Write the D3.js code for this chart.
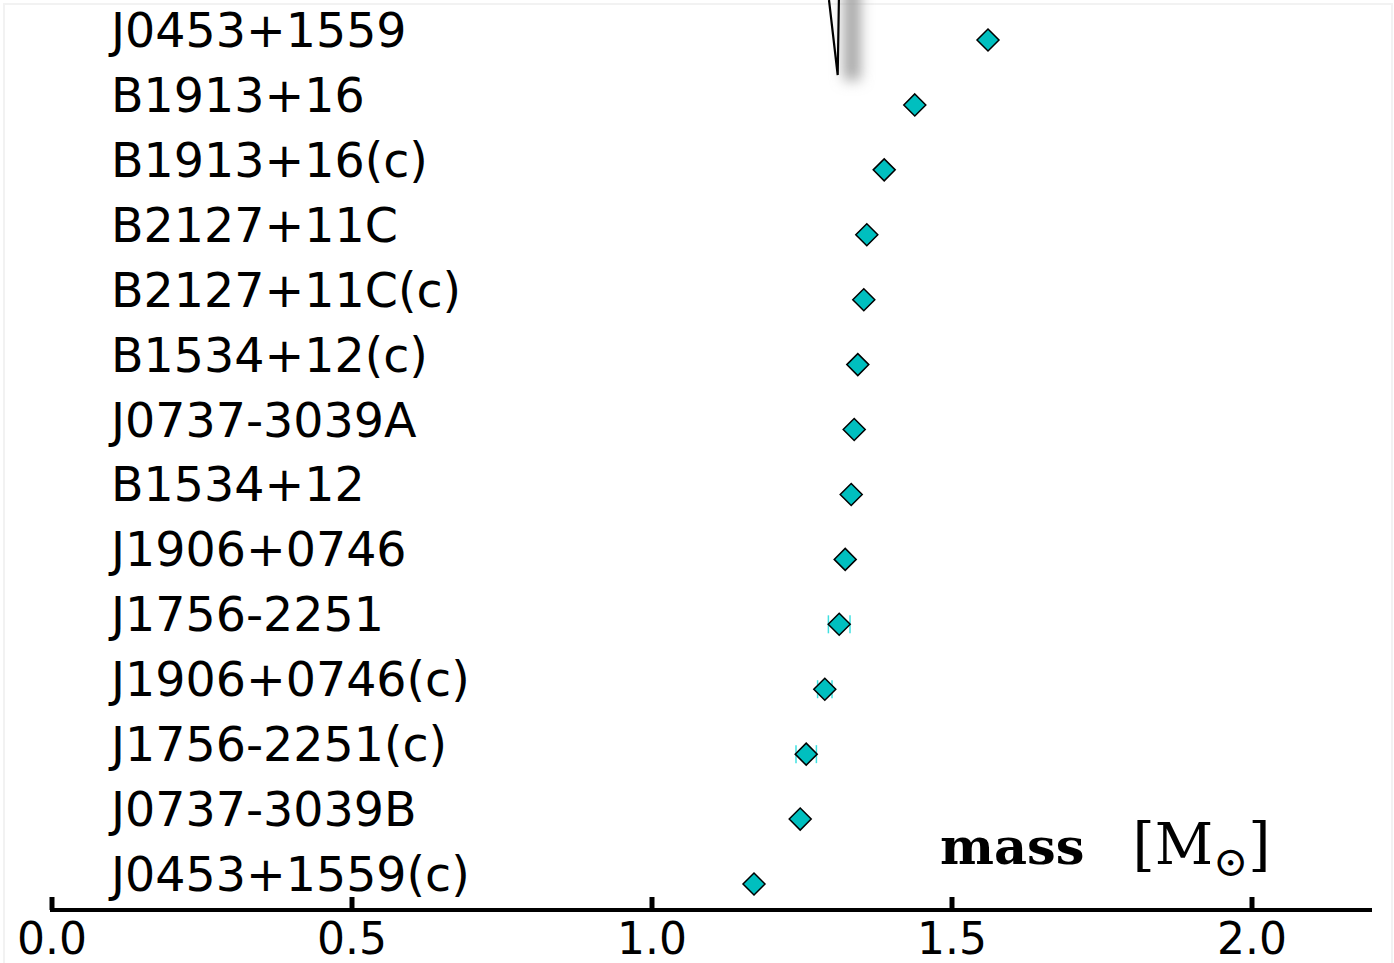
<!DOCTYPE html>
<html>
<head>
<meta charset="utf-8">
<script src="https://cdn.jsdelivr.net/npm/d3@7"></script>
<style>
  body { margin: 0; background: white; }
</style>
</head>
<body>
<div id="main"></div>
<script>
var names = ['J0453+1559', 'B1913+16', 'B1913+16(c)', 'B2127+11C', 'B2127+11C(c)',
  'B1534+12(c)', 'J0737-3039A', 'B1534+12', 'J1906+0746', 'J1756-2251',
  'J1906+0746(c)', 'J1756-2251(c)', 'J0737-3039B', 'J0453+1559(c)']
var masses = [1.560, 1.438, 1.387, 1.358, 1.353, 1.343, 1.337, 1.332, 1.322, 1.312,
  1.288, 1.257, 1.247, 1.170]
var errors = [0.003, 0.002, 0.003, 0.002, 0.002, 0.002, 0.001, 0.002, 0.003, 0.018,
  0.012, 0.017, 0.001, 0.003]
var ticks = [0.0, 0.5, 1.0, 1.5, 2.0]

var w = 1394
var h = 963
var svg = d3.select('div#main').append('svg')
  .attr('width', w)
  .attr('height', h)
  .style('display', 'block')

// faint frame
svg.append('rect')
  .attr('x', 4).attr('y', 4)
  .attr('width', 1388).attr('height', h + 10)
  .attr('fill', 'none')
  .attr('stroke', 'rgb(242,242,242)')
  .attr('stroke-width', 2)

var x = d3.scaleLinear().domain([0, 2.2]).range([52, 1372])
var y = d3.scalePoint().domain(names).range([40, 884])

// clipped curve poking in from the panel above
var defs = svg.append('defs')
defs.append('filter').attr('id', 'blur')
  .attr('x', '-100%').attr('width', '300%')
  .attr('y', '-50%').attr('height', '200%')
  .append('feGaussianBlur').attr('stdDeviation', 7)
svg.append('rect')
  .attr('x', x(1.31) + 6).attr('y', -20)
  .attr('width', 16).attr('height', 100)
  .attr('fill', 'rgb(160,160,160)')
  .attr('filter', 'url(#blur)')
svg.append('path')
  .attr('d', d3.line()([[x(1.295), 0], [x(1.3095), 75], [x(1.3115), 0]]))
  .attr('fill', 'none')
  .attr('stroke', 'black')
  .attr('stroke-width', 2.2)

// names
svg.selectAll('text.name').data(names).enter().append('text')
  .attr('class', 'name')
  .attr('x', 111)
  .attr('y', function (d) { return y(d) + 7 })
  .style('font-family', 'DejaVu Sans')
  .style('font-size', '47.5px')
  .attr('fill', 'black')
  .text(function (d) { return d })

// error bars
names.forEach(function (n, i) {
  var g = svg.append('g').attr('stroke', 'rgb(64,224,224)').attr('stroke-width', 1.5)
  var cy = y(n)
  g.append('line')
    .attr('x1', x(masses[i] - errors[i])).attr('x2', x(masses[i] + errors[i]))
    .attr('y1', cy).attr('y2', cy)
  ;[-1, 1].forEach(function (s) {
    g.append('line')
      .attr('x1', x(masses[i] + s * errors[i])).attr('x2', x(masses[i] + s * errors[i]))
      .attr('y1', cy - 9).attr('y2', cy + 9)
  })
})

// diamonds
var r = 11
svg.selectAll('path.pt').data(masses).enter().append('path')
  .attr('class', 'pt')
  .attr('transform', function (d, i) { return 'translate(' + x(d) + ',' + y(names[i]) + ')' })
  .attr('d', 'M0,' + (-r) + 'L' + r + ',0L0,' + r + 'L' + (-r) + ',0Z')
  .attr('fill', 'rgb(0,191,191)')
  .attr('stroke', 'black')
  .attr('stroke-width', 1.5)

// x axis
var axisY = 910
svg.append('line')
  .attr('x1', x(0) - 2).attr('x2', x(2.2))
  .attr('y1', axisY).attr('y2', axisY)
  .attr('stroke', 'black').attr('stroke-width', 4)
ticks.forEach(function (t) {
  svg.append('line')
    .attr('x1', x(t)).attr('x2', x(t))
    .attr('y1', axisY).attr('y2', axisY - 13)
    .attr('stroke', 'black').attr('stroke-width', 5)
  svg.append('text')
    .attr('x', x(t))
    .attr('y', 954)
    .attr('text-anchor', 'middle')
    .style('font-family', 'DejaVu Sans')
    .style('font-size', '44px')
    .attr('fill', 'black')
    .text(t.toFixed(1))
})

// axis title
var title = svg.append('text')
  .attr('x', 940).attr('y', 864)
  .style('font-family', 'DejaVu Serif')
  .style('font-size', '51px')
  .attr('fill', 'black')
title.append('tspan').style('font-weight', 'bold').text('mass')
title.append('tspan').attr('dx', 48).style('font-size', '57px').text('[M')
title.append('tspan').attr('dy', 12).style('font-size', '42px').text('⊙')
title.append('tspan').attr('dy', -12).style('font-size', '57px').text(']')
</script>
</body>
</html>
